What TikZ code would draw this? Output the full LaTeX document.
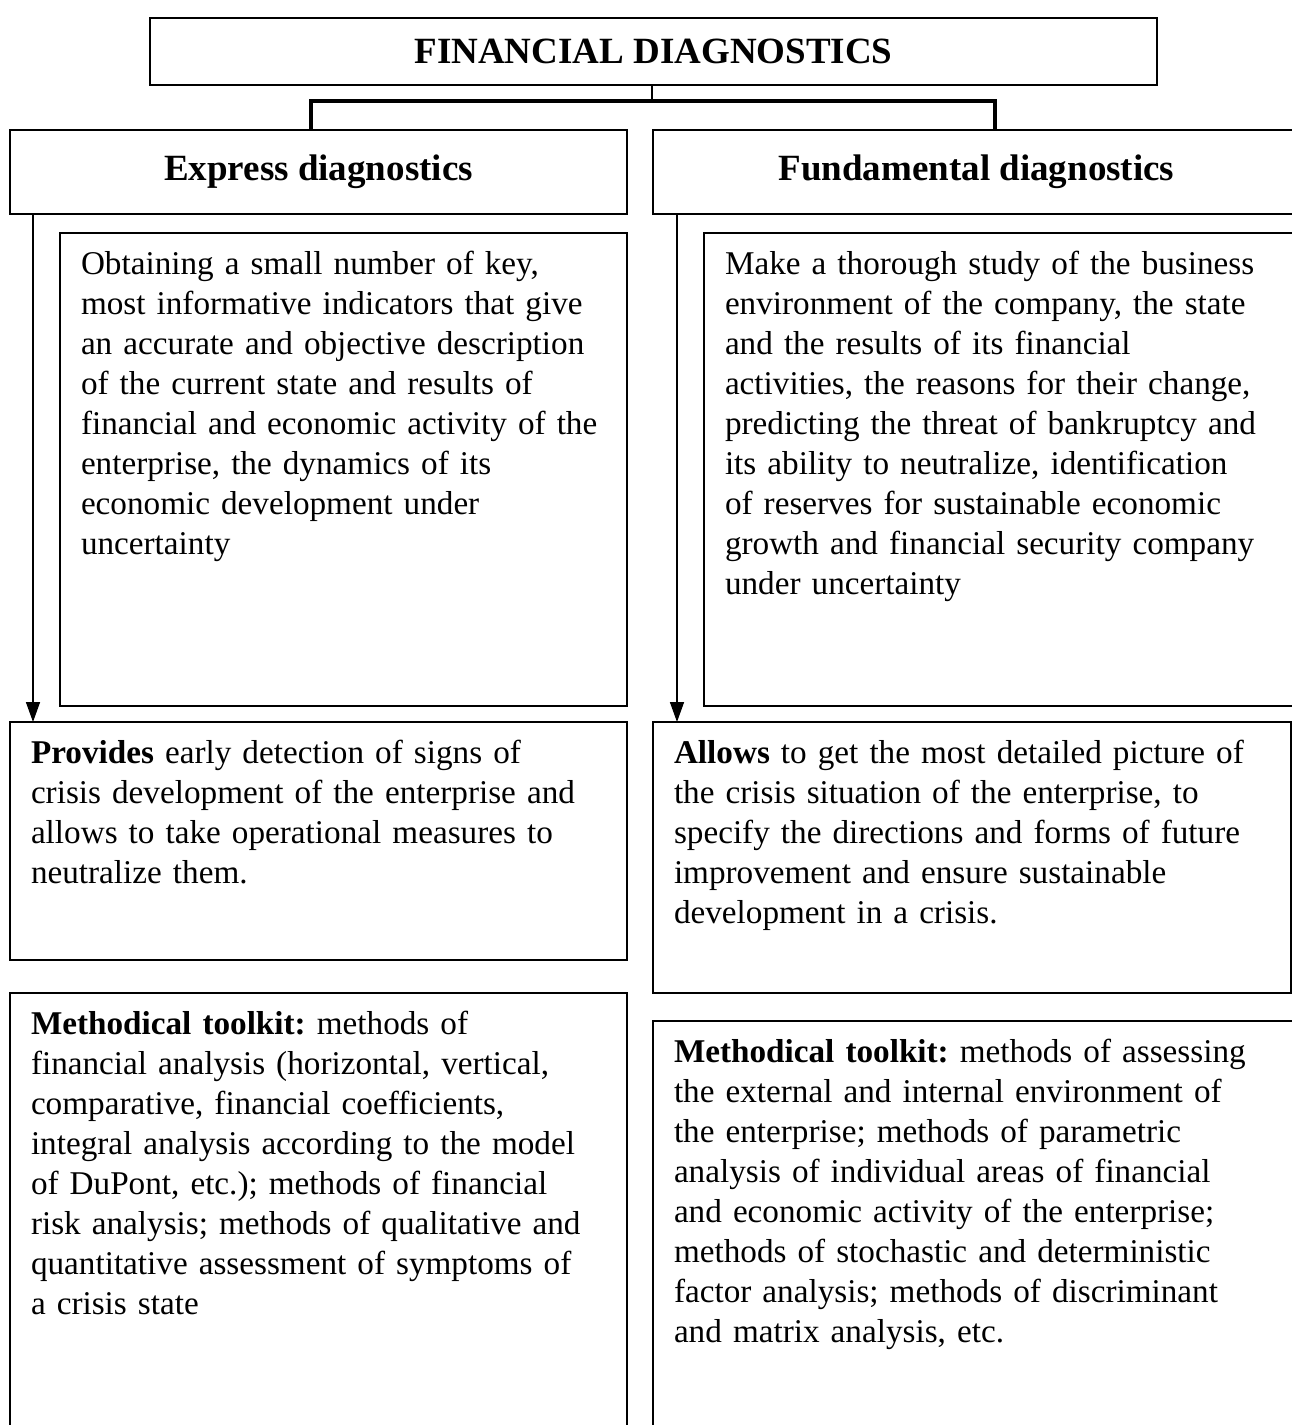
\documentclass[tikz,border=0pt]{standalone}
\usepackage{fontspec}
\setmainfont{Liberation Serif}
\usetikzlibrary{arrows.meta}

\tikzset{
  frame/.style={draw, line width=1.6pt, anchor=north west, outer sep=0pt},
  head/.style={frame, align=center, inner sep=0pt,
    font=\fontsize{37}{44}\selectfont\bfseries},
  txt/.style={frame, align=left, inner xsep=21pt, inner ysep=13pt,
    text height=28pt, font=\fontsize{33.2}{40}\selectfont},
  link/.style={line width=1.5pt},
  bar/.style={line width=3.5pt},
  arr/.style={line width=1.5pt, -{Triangle[width=14pt,length=20pt]}}
}

\begin{document}
\frenchspacing
\begin{tikzpicture}[x=1pt,y=-1pt]
\path[use as bounding box] (0,0) rectangle (1292,1425);
\clip (0,0) rectangle (1292,1425);

% top level
\node[head, minimum width=1007pt, minimum height=67pt] (fin) at (150,18) {FINANCIAL DIAGNOSTICS};

% two kinds of diagnostics
\node[head, minimum width=617pt, minimum height=84pt] (express) at (10,130) {\raisebox{3pt}{Express diagnostics}};
\node[head, minimum width=647pt, minimum height=84pt] (fund) at (653,130) {\raisebox{3pt}{Fundamental diagnostics}};

% descriptions
\node[txt, text width=525pt, text depth=419pt] (expdesc) at (60,233) {Obtaining a small number of key,\\
most informative indicators that give\\
an accurate and objective description\\
of the current state and results of\\
financial and economic activity of the\\
enterprise, the dynamics of its\\
economic development under\\
uncertainty};
\node[txt, text width=562pt, text depth=419pt] (funddesc) at (704,233) {Make a thorough study of the business\\
environment of the company, the state\\
and the results of its financial\\
activities, the reasons for their change,\\
predicting the threat of bankruptcy and\\
its ability to neutralize, identification\\
of reserves for sustainable economic\\
growth and financial security company\\
under uncertainty};

% results
\node[txt, text width=575pt, text depth=184pt] (provides) at (10,722) {\textbf{Provides} early detection of signs of\\
crisis development of the enterprise and\\
allows to take operational measures to\\
neutralize them.};
\node[txt, text width=596pt, text depth=217pt] (allows) at (653,722) {\textbf{Allows} to get the most detailed picture of\\
the crisis situation of the enterprise, to\\
specify the directions and forms of future\\
improvement and ensure sustainable\\
development in a crisis.};

% toolkits
\node[txt, text width=575pt, text depth=393pt] (exptool) at (10,993) {\textbf{Methodical toolkit:} methods of\\
financial analysis (horizontal, vertical,\\
comparative, financial coefficients,\\
integral analysis according to the model\\
of DuPont, etc.); methods of financial\\
risk analysis; methods of qualitative and\\
quantitative assessment of symptoms of\\
a crisis state};
\node[txt, text width=605pt, text depth=365pt] (fundtool) at (653,1021) {\textbf{Methodical toolkit:} methods of assessing\\
the external and internal environment of\\
the enterprise; methods of parametric\\
analysis of individual areas of financial\\
and economic activity of the enterprise;\\
methods of stochastic and deterministic\\
factor analysis; methods of discriminant\\
and matrix analysis, etc.};

% connectors
\coordinate (split) at (652,101);
\coordinate (dropL) at (311,101);
\coordinate (dropR) at (995,101);
\draw[link] (fin.south -| split) -- (split);
\draw[bar] (dropL |- express.north) -- (dropL) -- (dropR) -- (dropR |- fund.north);
\draw[arr] ([xshift=23pt]express.south west) -- ([xshift=23pt]provides.north west);
\draw[arr] ([xshift=24pt]fund.south west) -- ([xshift=24pt]allows.north west);
\end{tikzpicture}
\end{document}
